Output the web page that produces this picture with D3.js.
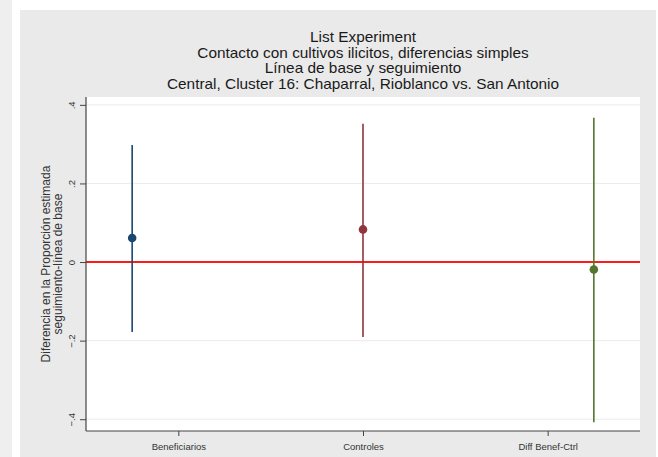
<!DOCTYPE html>
<html>
<head>
<meta charset="utf-8">
<script src="https://cdn.jsdelivr.net/npm/d3@7"></script>
<style>
  html, body { margin: 0; padding: 0; background: #ffffff; }
  svg { display: block; font-family: "Liberation Sans", Arial, sans-serif; }
</style>
</head>
<body>
<svg id="chart" width="658" height="457"></svg>
<script>
// Estimates (follow-up minus baseline) with confidence bounds
const groups = ["Beneficiarios", "Controles", "Diff Benef-Ctrl"];
const groupPos = [1, 2, 3];
const estimates = [0.061, 0.083, -0.019];
const lowerCI = [-0.178, -0.191, -0.408];
const upperCI = [0.298, 0.352, 0.367];
const seriesColors = ["#1a476f", "#90353b", "#55752f"];

// Category labels sit at their own positions on the x axis
const labelPos = [1.2, 2, 2.8];
const yTicks = [-0.4, -0.2, 0, 0.2, 0.4];
const titleLines = [
  "List Experiment",
  "Contacto con cultivos ilicitos, diferencias simples",
  "Línea de base y seguimiento",
  "Central, Cluster 16: Chaparral, Rioblanco vs. San Antonio"
];
const yTitleLines = ["Diferencia en la Proporción estimada", "seguimiento-línea de base"];

const svg = d3.select("#chart");
const W = 658, H = 457;

// Outer background strips
svg.append("rect").attr("x", 0).attr("y", 0).attr("width", 12).attr("height", H).attr("fill", "#efefef");
svg.append("rect").attr("x", 20).attr("y", 10).attr("width", 636).attr("height", H - 10).attr("fill", "#eaeaea");

const plot = { left: 86, right: 640, top: 97, bottom: 431 };

const x = d3.scaleLinear().domain([0.8, 3.2]).range([plot.left, plot.right]);
const y = d3.scaleLinear().domain([-0.43, 0.42]).range([plot.bottom, plot.top]);

// Plot region
svg.append("rect")
  .attr("x", plot.left).attr("y", plot.top)
  .attr("width", plot.right - plot.left).attr("height", plot.bottom - plot.top)
  .attr("fill", "#ffffff");

// Horizontal grid lines
svg.append("g").selectAll("line")
  .data(yTicks.filter(d => d !== 0))
  .join("line")
  .attr("x1", plot.left).attr("x2", plot.right)
  .attr("y1", d => y(d)).attr("y2", d => y(d))
  .attr("stroke", "#ebebeb").attr("stroke-width", 1);

// Reference line at zero
svg.append("line")
  .attr("x1", plot.left).attr("x2", plot.right)
  .attr("y1", y(0)).attr("y2", y(0))
  .attr("stroke", "#ff1a1a").attr("stroke-width", 2);

// Confidence intervals
svg.append("g").selectAll("line")
  .data(groupPos)
  .join("line")
  .attr("x1", d => x(d)).attr("x2", d => x(d))
  .attr("y1", (d, i) => y(lowerCI[i])).attr("y2", (d, i) => y(upperCI[i]))
  .attr("stroke", (d, i) => seriesColors[i]).attr("stroke-width", 1.6);

// Point estimates
svg.append("g").selectAll("circle")
  .data(groupPos)
  .join("circle")
  .attr("cx", d => x(d)).attr("cy", (d, i) => y(estimates[i]))
  .attr("r", 4.3)
  .attr("fill", (d, i) => seriesColors[i]);

// Y axis
const yAxis = d3.axisLeft(y).tickValues(yTicks)
  .tickFormat(d => d === 0 ? "0" : d3.format(".1f")(d).replace("0.", "."))
  .tickSize(6).tickSizeOuter(0);
const gy = svg.append("g").attr("transform", `translate(${plot.left},0)`).call(yAxis);
gy.select(".domain").attr("stroke", "#444").attr("stroke-width", 1.2)
  .attr("d", `M0,${plot.top}V${plot.bottom}`);
gy.selectAll(".tick line").attr("stroke", "#444");
gy.selectAll(".tick text")
  .attr("transform", "rotate(-90)")
  .attr("x", 0).attr("y", -11).attr("dy", "0")
  .attr("text-anchor", "middle")
  .attr("font-size", 9.5).attr("fill", "#333");

// X axis
const xAxis = d3.axisBottom(x).tickValues(labelPos)
  .tickFormat((d, i) => groups[i]).tickSize(5).tickSizeOuter(0);
const gx = svg.append("g").attr("transform", `translate(0,${plot.bottom})`).call(xAxis);
gx.select(".domain").attr("stroke", "#444").attr("stroke-width", 1.2)
  .attr("d", `M${plot.left},0H${plot.right}`);
gx.selectAll(".tick line").attr("stroke", "#444");
gx.selectAll(".tick text").attr("font-size", 9.5).attr("fill", "#333").attr("y", 12);

// Titles (slightly widened glyphs)
svg.append("g").selectAll("text")
  .data(titleLines)
  .join("text")
  .attr("transform", (d, i) => `translate(363,${42 + i * 15.7}) scale(1.06,1)`)
  .attr("text-anchor", "middle")
  .attr("font-size", 14.5).attr("fill", "#1a1a1a")
  .text(d => d);

// Y axis title
svg.append("g").selectAll("text")
  .data(yTitleLines)
  .join("text")
  .attr("transform", (d, i) => `translate(${50 + i * 12},264) rotate(-90)`)
  .attr("text-anchor", "middle")
  .attr("font-size", 12).attr("fill", "#333")
  .text(d => d);
</script>
</body>
</html>
